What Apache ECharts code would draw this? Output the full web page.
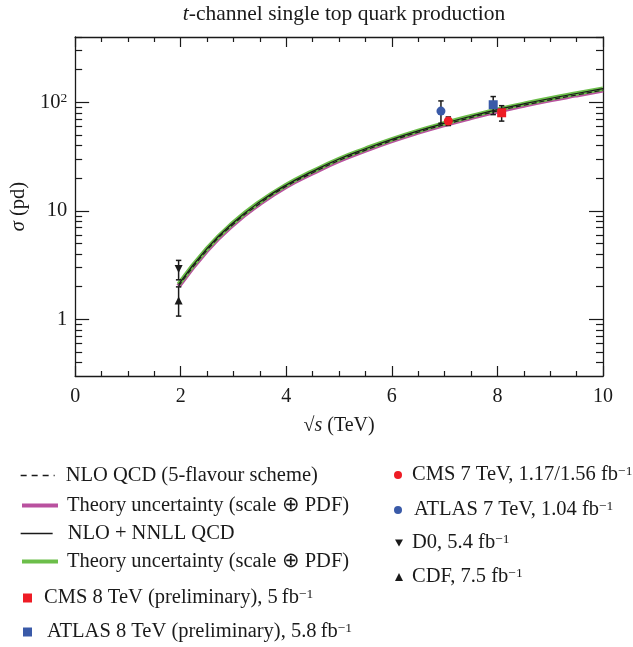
<!DOCTYPE html>
<html>
<head>
<meta charset="utf-8">
<script src="https://cdn.jsdelivr.net/npm/echarts@6/dist/echarts.min.js"></script>
<style>html,body{margin:0;padding:0;background:#fff;}#c{width:633px;height:647px;}</style>
</head>
<body>
<div id="c"></div>
<script>
// ---- data ----
const sqrtS = [1.96, 2.5, 3, 3.5, 4, 4.5, 5, 5.5, 6, 6.5, 7, 7.5, 8, 8.5, 9, 9.5, 10];
const nnllQCD = [2.1, 4.5, 7.8, 12.1, 17.3, 23.1, 30.0, 37.3, 45.6, 54.6, 64.1, 74.4, 85.6, 96.8, 108.5, 120.5, 133.5];
const nloQCD = [2.02, 4.35, 7.55, 11.7, 16.8, 22.4, 29.1, 36.2, 44.3, 53.0, 62.3, 72.3, 83.2, 94.0, 105.4, 117.0, 129.6];

// measurements: [sqrt(s), sigma, errDown, errUp]
const cms8 = [8.08, 80.1, 13.0, 13.0];
const atlas8 = [7.92, 95.0, 18.0, 18.0];
const cms7 = [7.07, 67.2, 6.1, 6.1];
const atlas7 = [6.93, 83.0, 19.0, 20.0];
const d0 = [1.96, 2.90, 0.59, 0.59];
const cdf = [1.96, 1.49, 0.42, 0.50];

const xTicks = [0, 2, 4, 6, 8, 10];
const yMajorTicks = [1, 10, 100];
const yMinorTicks = [0.4, 0.5, 0.6, 0.7, 0.8, 0.9, 2, 3, 4, 5, 6, 7, 8, 9, 20, 30, 40, 50, 60, 70, 80, 90, 200, 300, 400];

const labels = {
  nlo: 'NLO QCD (5-flavour scheme)',
  nloBand: 'Theory uncertainty (scale \u2295 PDF)',
  nnll: 'NLO + NNLL QCD',
  nnllBand: 'Theory uncertainty (scale \u2295 PDF)',
  cms8: 'CMS 8 TeV (preliminary), 5\u2009fb',
  atlas8: 'ATLAS 8 TeV (preliminary), 5.8\u2009fb',
  cms7: 'CMS 7 TeV, 1.17/1.56 fb',
  atlas7: 'ATLAS 7 TeV, 1.04 fb',
  d0: 'D0, 5.4 fb',
  cdf: 'CDF, 7.5 fb'
};
const withSup = {cms8:1, atlas8:1, cms7:1, atlas7:1, d0:1, cdf:1};

const FONT = 'Liberation Serif';
const LFS = 20.5;
const RED = '#ee1c25', BLUE = '#3a5aa8', PINK = '#b9519f', GREEN = '#6cbe4a', INK = '#1a1a1a';

const curvePts = arr => sqrtS.map((x, i) => [x, arr[i]]);
const errData = m => [[m[0], m[1] - m[2], m[1] + m[3]]];

function errorBars(name, m) {
  return {
    name: name, type: 'custom', z: 4, silent: true,
    data: errData(m),
    encode: {x: 0, y: [1, 2]},
    renderItem: function (params, api) {
      const x = api.value(0), lo = api.value(1), hi = api.value(2);
      const t = api.coord([x, hi]), b = api.coord([x, lo]);
      const w = 2.7, st = {stroke: INK, lineWidth: 1.5};
      return {type: 'group', children: [
        {type: 'line', shape: {x1: t[0], y1: t[1], x2: b[0], y2: b[1]}, style: st},
        {type: 'line', shape: {x1: t[0] - w, y1: t[1], x2: t[0] + w, y2: t[1]}, style: st},
        {type: 'line', shape: {x1: b[0] - w, y1: b[1], x2: b[0] + w, y2: b[1]}, style: st}
      ]};
    }
  };
}

const richText = {
  n: {fontFamily: FONT, fontSize: LFS, color: INK, lineHeight: 22},
  s: {fontFamily: FONT, fontSize: 13.5, color: INK, lineHeight: 13, verticalAlign: 'top'},
  g4: {width: 4}, g7: {width: 7}, g10: {width: 10}, g5: {width: 5}, g6: {width: 6}, g8: {width: 8}
};

function legendItem(key, left, cy, opts) {
  const o = Object.assign({itemWidth: 33, itemHeight: 12, gap: 'g4'}, opts || {});
  const item = {name: key};
  if (o.icon) item.icon = o.icon;
  const L = {
    data: [item], left: left, top: cy - 11, padding: 0, orient: 'vertical',
    itemWidth: o.itemWidth, itemHeight: o.itemHeight, selectedMode: false,
    formatter: function (name) {
      let s = '{' + o.gap + '|}{n|' + labels[name] + '}';
      if (withSup[name]) s += '{s|\u22121}';
      return s;
    },
    textStyle: {rich: richText, fontFamily: FONT, fontSize: LFS, color: INK}
  };
  if (o.lineStyle) {
    L.lineStyle = o.lineStyle;
    L.itemStyle = {opacity: 0, borderWidth: 0};
  } else {
    L.itemStyle = {opacity: 1};
  }
  return L;
}

const axisLineStyle = {color: INK, width: 1.3};

const option = {
  animation: false,
  backgroundColor: '#fff',
  graphic: [{
    type: 'text', x: 344, y: 14,
    style: {
      text: '{i|t}{n|-channel single top quark production}',
      align: 'center', verticalAlign: 'middle',
      rich: {
        i: {fontFamily: FONT, fontSize: 21.5, fontStyle: 'italic', fill: INK},
        n: {fontFamily: FONT, fontSize: 21.5, fill: INK}
      }
    }
  }],
  grid: {left: 75, right: 30, top: 37, bottom: 271},
  xAxis: [{
    type: 'value', min: 0, max: 10, interval: 2, position: 'bottom',
    name: '{n|\u221A}{i|s}{n| (TeV)}', nameLocation: 'middle', nameGap: 40,
    nameTextStyle: {rich: {
      n: {fontFamily: FONT, fontSize: 20, color: INK},
      i: {fontFamily: FONT, fontSize: 20, fontStyle: 'italic', color: INK}
    }},
    axisLine: {lineStyle: axisLineStyle},
    axisTick: {inside: true, length: 10, lineStyle: {color: INK, width: 1.2}},
    minorTick: {show: true, splitNumber: 4, length: 5, lineStyle: {color: INK, width: 1.2}},
    axisLabel: {fontFamily: FONT, fontSize: 20, color: INK, margin: 11},
    splitLine: {show: false}
  }, {
    type: 'value', min: 0, max: 10, interval: 2, position: 'top',
    axisLine: {lineStyle: axisLineStyle},
    axisTick: {inside: true, length: 10, lineStyle: {color: INK, width: 1.2}},
    minorTick: {show: true, splitNumber: 4, length: 5, lineStyle: {color: INK, width: 1.2}},
    axisLabel: {show: false},
    splitLine: {show: false}
  }],
  yAxis: [{
    type: 'log', logBase: 10, min: 0.3, max: 400, position: 'left',
    name: '{i|\u03C3}{n| (pd)}', nameLocation: 'middle', nameGap: 34, nameRotate: 90,
    nameTextStyle: {rich: {
      n: {fontFamily: FONT, fontSize: 20.5, color: INK},
      i: {fontFamily: FONT, fontSize: 20.5, fontStyle: 'italic', color: INK}
    }},
    axisLine: {lineStyle: axisLineStyle},
    axisTick: {inside: true, length: 14, customValues: yMajorTicks, lineStyle: {color: INK, width: 1.2}},
    axisLabel: {
      customValues: yMajorTicks, margin: 8,
      formatter: function (v) {
        const r = Math.round(v);
        return r === 100 ? '{n|10}{s|2}' : '{n|' + r + '}';
      },
      rich: {
        n: {fontFamily: FONT, fontSize: 20.5, color: INK, lineHeight: 22},
        s: {fontFamily: FONT, fontSize: 13.5, color: INK, lineHeight: 13, verticalAlign: 'top'}
      }
    },
    splitLine: {show: false}
  }, {
    type: 'log', logBase: 10, min: 0.3, max: 400, position: 'left',
    axisLine: {show: false},
    axisTick: {inside: true, length: 7, customValues: yMinorTicks, lineStyle: {color: INK, width: 1.2}},
    axisLabel: {show: false},
    splitLine: {show: false}
  }, {
    type: 'log', logBase: 10, min: 0.3, max: 400, position: 'right',
    axisLine: {show: true, lineStyle: axisLineStyle},
    axisTick: {inside: true, length: 14, customValues: yMajorTicks, lineStyle: {color: INK, width: 1.2}},
    axisLabel: {show: false},
    splitLine: {show: false}
  }, {
    type: 'log', logBase: 10, min: 0.3, max: 400, position: 'right',
    axisLine: {show: false},
    axisTick: {inside: true, length: 7, customValues: yMinorTicks, lineStyle: {color: INK, width: 1.2}},
    axisLabel: {show: false},
    splitLine: {show: false}
  }],
  legend: [
    legendItem('nlo', 20, 476, {lineStyle: {color: INK, width: 1.3, type: [6, 5]}, itemWidth: 34, gap: 'g6'}),
    legendItem('nloBand', 20, 506, {lineStyle: {color: PINK, width: 4}, itemWidth: 36, gap: 'g4'}),
    legendItem('nnll', 20, 534, {lineStyle: {color: INK, width: 1.3}, itemWidth: 32, gap: 'g10'}),
    legendItem('nnllBand', 20, 562, {lineStyle: {color: GREEN, width: 4}, itemWidth: 36, gap: 'g4'}),
    legendItem('cms8', 23, 598, {itemWidth: 9, itemHeight: 9, gap: 'g7'}),
    legendItem('atlas8', 23, 632, {itemWidth: 9, itemHeight: 9, gap: 'g10'}),
    legendItem('cms7', 394, 475, {itemWidth: 8, itemHeight: 8, gap: 'g5'}),
    legendItem('atlas7', 394, 510, {itemWidth: 8, itemHeight: 8, gap: 'g7'}),
    legendItem('d0', 395, 543, {itemWidth: 8, itemHeight: 8, gap: 'g4', icon: 'path://M0,0L10,0L5,9Z'}),
    legendItem('cdf', 395, 577, {itemWidth: 8, itemHeight: 8, gap: 'g4'})
  ],
  series: [
    {name: 'nloBand', type: 'line', smooth: true, symbol: 'none', z: 1,
     data: curvePts(nloQCD), lineStyle: {color: PINK, width: 5}, itemStyle: {color: PINK}},
    {name: 'nnllBand', type: 'line', smooth: true, symbol: 'none', z: 2,
     data: curvePts(nnllQCD), lineStyle: {color: GREEN, width: 4.5}, itemStyle: {color: GREEN}},
    {name: 'nlo', type: 'line', smooth: true, symbol: 'none', z: 3,
     data: curvePts(nloQCD), lineStyle: {color: INK, width: 1.2, type: [5, 3]}, itemStyle: {color: INK}},
    {name: 'nnll', type: 'line', smooth: true, symbol: 'none', z: 3,
     data: curvePts(nnllQCD), lineStyle: {color: INK, width: 1.2}, itemStyle: {color: INK}},
    errorBars('errCms8', cms8),
    errorBars('errAtlas8', atlas8),
    errorBars('errCms7', cms7),
    errorBars('errAtlas7', atlas7),
    errorBars('errD0', d0),
    errorBars('errCdf', cdf),
    {name: 'cms8', type: 'scatter', symbol: 'rect', symbolSize: 9, z: 5,
     data: [[cms8[0], cms8[1]]], itemStyle: {color: RED, opacity: 1}},
    {name: 'atlas8', type: 'scatter', symbol: 'rect', symbolSize: 9, z: 5,
     data: [[atlas8[0], atlas8[1]]], itemStyle: {color: BLUE, opacity: 1}},
    {name: 'cms7', type: 'scatter', symbol: 'circle', symbolSize: 9, z: 5,
     data: [[cms7[0], cms7[1]]], itemStyle: {color: RED, opacity: 1}},
    {name: 'atlas7', type: 'scatter', symbol: 'circle', symbolSize: 9, z: 5,
     data: [[atlas7[0], atlas7[1]]], itemStyle: {color: BLUE, opacity: 1}},
    {name: 'd0', type: 'scatter', symbol: 'triangle', symbolRotate: 180, symbolSize: 8, z: 5,
     data: [[d0[0], d0[1]]], itemStyle: {color: INK, opacity: 1}},
    {name: 'cdf', type: 'scatter', symbol: 'triangle', symbolSize: 8, z: 5,
     data: [[cdf[0], cdf[1]]], itemStyle: {color: INK, opacity: 1}}
  ]
};

const chart = echarts.init(document.getElementById('c'), null, {renderer: 'canvas'});
chart.setOption(option);
</script>
</body>
</html>
